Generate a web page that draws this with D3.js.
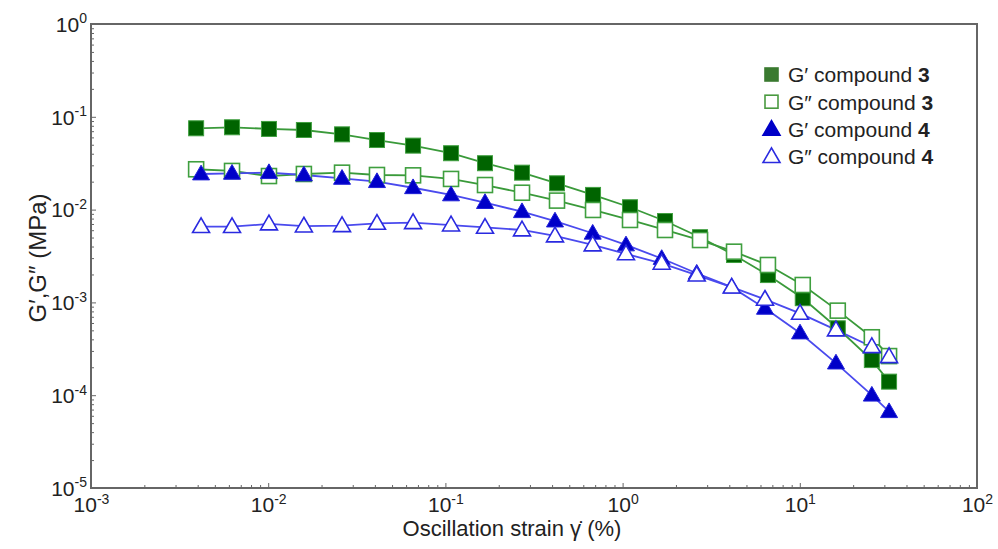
<!DOCTYPE html>
<html><head><meta charset="utf-8">
<script src="https://cdn.jsdelivr.net/npm/d3@7"></script>
<style>
body{margin:0;background:#fff;}
text{font-family:"Liberation Sans",Arial,sans-serif;}
</style></head><body>
<svg id="c" width="998" height="549"></svg>
<script>
// strain (%) for compound 3 and compound 4 series
const strain3 = [0.00392,0.00625,0.0101,0.0159,0.0261,0.0411,0.0657,0.1076,0.1673,0.2706,0.4264,0.681,1.101,1.735,2.735,4.254,6.61,10.39,16.38,25.5,31.9];
const strain4 = [0.00418,0.00625,0.0101,0.0159,0.0261,0.0411,0.0657,0.1076,0.1673,0.2706,0.4154,0.678,1.045,1.662,2.62,4.128,6.36,10.03,16.0,25.5,31.9];
const gp3  = [0.0752,0.0771,0.0740,0.0721,0.0647,0.0562,0.0489,0.0405,0.0316,0.0250,0.0192,0.0144,0.0106,0.00753,0.00504,0.00324,0.00197,0.00111,0.000526,0.000239,0.000140];
const gpp3 = [0.0272,0.0261,0.0230,0.0242,0.0250,0.0236,0.0234,0.0214,0.0184,0.0152,0.0125,0.00991,0.00773,0.00603,0.00470,0.00352,0.00253,0.00154,0.000815,0.000421,0.000264];
const gp4  = [0.0242,0.0246,0.0250,0.0236,0.0217,0.0200,0.0172,0.0144,0.0119,0.00949,0.00753,0.00556,0.00416,0.00297,0.00206,0.00146,0.000863,0.000468,0.000222,0.000100,0.0000664];
const gpp4 = [0.00655,0.00655,0.00700,0.00665,0.00671,0.00711,0.00723,0.00682,0.00644,0.00603,0.00520,0.00416,0.00333,0.00264,0.00197,0.00146,0.00108,0.000762,0.000505,0.000333,0.000260];
const xTickExp = [-3,-2,-1,0,1,2];
const yTickExp = [0,-1,-2,-3,-4,-5];
const legendLabels = [["G′ compound ","3"],["G″ compound ","3"],["G′ compound ","4"],["G″ compound ","4"]];

const svg = d3.select("#c");
const L=91,R=977,T=24,B=488;
const x = d3.scaleLog().domain([1e-3,1e2]).range([L,R]);
const y = d3.scaleLog().domain([1e-5,1]).range([B,T]);

const series = [
  {xs:strain3, ys:gp3,  shape:"square",   filled:true,  fill:"#006400", stroke:"#3f9f3f", line:"#3a9a3a"},
  {xs:strain3, ys:gpp3, shape:"square",   filled:false, fill:"#fff",    stroke:"#3f9f3f", line:"#3a9a3a"},
  {xs:strain4, ys:gp4,  shape:"triangle", filled:true,  fill:"#0000c8", stroke:"#2020d8", line:"#4a4aee"},
  {xs:strain4, ys:gpp4, shape:"triangle", filled:false, fill:"#fff",    stroke:"#2a2ae0", line:"#4a4aee"}
];

// minor ticks
const minorVals = (lo,hi)=>{const a=[];for(let e=lo;e<hi;e++)for(let m=2;m<=9;m++)a.push(m*Math.pow(10,e));return a;};
svg.append("g").attr("transform",`translate(0,${B})`)
  .call(d3.axisBottom(x).tickValues(minorVals(-3,2)).tickSize(-3).tickFormat(""))
  .call(g=>g.select(".domain").remove()).selectAll("line").attr("stroke","#666");
svg.append("g").attr("transform",`translate(${L},0)`)
  .call(d3.axisLeft(y).tickValues(minorVals(-5,0)).tickSize(-3).tickFormat(""))
  .call(g=>g.select(".domain").remove()).selectAll("line").attr("stroke","#666");

// frame
svg.append("rect").attr("x",L).attr("y",T).attr("width",R-L).attr("height",B-T)
  .attr("fill","none").attr("stroke","#666").attr("stroke-width",2);

// major axes
const xa = svg.append("g").attr("transform",`translate(0,${B})`)
  .call(d3.axisBottom(x).tickValues(xTickExp.map(e=>Math.pow(10,e))).tickSize(-5).tickPadding(4).tickFormat(""));
xa.select(".domain").remove();
xa.selectAll("line").attr("stroke","#666");
xa.selectAll(".tick text").each(function(d){
  const t=d3.select(this).attr("font-size",21).attr("fill","#222").attr("dy","0.95em");
  t.append("tspan").text("10");
  t.append("tspan").attr("font-size",14).attr("dy","-0.6em").text(String(Math.round(Math.log10(d))));
});
const ya = svg.append("g").attr("transform",`translate(${L},0)`)
  .call(d3.axisLeft(y).tickValues(yTickExp.map(e=>Math.pow(10,e))).tickSize(-5).tickPadding(4).tickFormat(""));
ya.select(".domain").remove();
ya.selectAll("line").attr("stroke","#666");
ya.selectAll(".tick text").each(function(d){
  const t=d3.select(this).attr("font-size",21).attr("fill","#222").attr("dy","0.35em");
  t.append("tspan").text("10");
  t.append("tspan").attr("font-size",14).attr("dy","-0.6em").text(String(Math.round(Math.log10(d))));
});

// axis titles
svg.append("text").attr("x",512).attr("y",536).attr("text-anchor","middle")
  .attr("font-size",22).attr("fill","#222").text("Oscillation strain γ̇ (%)");
svg.append("text").attr("transform",`translate(46,${(T+B)/2+2}) rotate(-90)`).attr("text-anchor","middle")
  .attr("font-size",24).attr("fill","#222").text("G′,G″ (MPa)");

const tri = d3.symbol().type(d3.symbolTriangle).size(125);
function drawMarker(g,s,cx,cy){
  if(s.shape==="square"){
    g.append("rect").attr("x",cx-7.5).attr("y",cy-7.5).attr("width",15).attr("height",15)
      .attr("fill",s.fill).attr("stroke",s.stroke).attr("stroke-width",s.filled?1:1.6);
  } else {
    g.append("path").attr("d",tri).attr("transform",`translate(${cx},${cy+1})`)
      .attr("fill",s.fill).attr("stroke",s.stroke).attr("stroke-width",s.filled?1:1.6);
  }
}

const line = d3.line().x(d=>x(d[0])).y(d=>y(d[1]));
series.forEach(s=>{
  const pts = s.xs.map((v,i)=>[v,s.ys[i]]);
  svg.append("path").attr("d",line(pts)).attr("fill","none").attr("stroke",s.line).attr("stroke-width",1.8);
});
series.forEach(s=>{
  const g=svg.append("g");
  s.xs.forEach((v,i)=>drawMarker(g,s,x(v),y(s.ys[i])));
});

// legend
const lg = svg.append("g");
legendLabels.forEach((lab,i)=>{
  const cy = 75 + i*27.2;
  const s = series[i];
  if(s.shape==="square"){
    lg.append("rect").attr("x",765).attr("y",cy-7).attr("width",13).attr("height",13)
      .attr("fill",s.filled?"#3a7a30":"#fff").attr("stroke",s.filled?"#3a7a30":"#4a9a40").attr("stroke-width",1.6);
  } else {
    lg.append("path").attr("d",tri).attr("transform",`translate(771.5,${cy+1})`)
      .attr("fill",s.fill).attr("stroke",s.filled?s.fill:s.stroke).attr("stroke-width",1.6);
  }
  const t = lg.append("text").attr("x",788).attr("y",cy).attr("dy","0.35em").attr("font-size",21).attr("fill","#222");
  t.append("tspan").text(lab[0]);
  t.append("tspan").attr("font-weight","bold").text(lab[1]);
});
</script>
</body></html>
